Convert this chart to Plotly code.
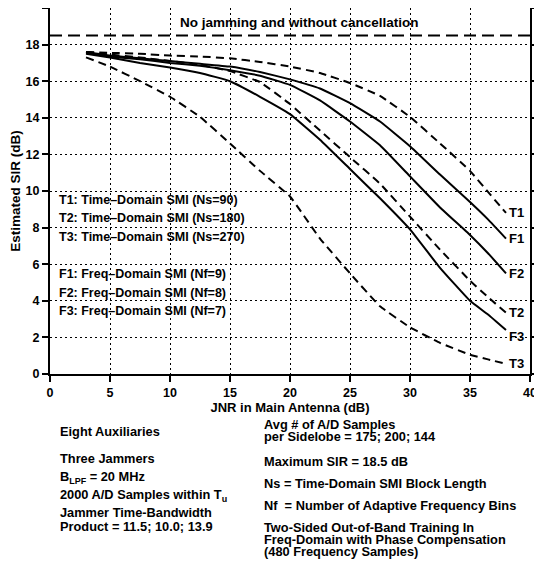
import plotly.graph_objects as go

# ---------------- data ----------------
jnr = [3, 5, 7.5, 10, 12.5, 15, 17.5, 20, 22.5, 25, 27.5, 30, 32.5, 35, 36.5, 38]

sir_T1 = [17.6, 17.55, 17.5, 17.4, 17.35, 17.25, 17.05, 16.8, 16.45, 15.9, 15.2, 14.05, 12.6, 11.1, 9.95, 8.8]
sir_F1 = [17.6, 17.4, 17.25, 17.1, 16.95, 16.8, 16.5, 16.1, 15.6, 14.8, 13.8, 12.45, 10.9, 9.4, 8.45, 7.4]
sir_F2 = [17.55, 17.35, 17.2, 17.0, 16.85, 16.6, 16.3, 15.8, 14.95, 13.8, 12.5, 10.8, 9.1, 7.6, 6.6, 5.5]
sir_T2 = [17.6, 17.45, 17.3, 17.1, 16.9, 16.55, 15.95, 14.75, 13.3, 11.85, 10.4, 8.6, 6.8, 5.1, 4.2, 3.35]
sir_F3 = [17.5, 17.3, 17.0, 16.75, 16.45, 16.0, 15.15, 14.2, 12.8, 11.2, 9.6, 7.9, 5.8, 4.0, 3.25, 2.4]
sir_T3 = [17.3, 16.8, 16.0, 15.15, 14.05, 12.6, 11.1, 9.7, 7.4, 5.5, 3.7, 2.55, 1.7, 1.05, 0.8, 0.55]

nojam_x = [0, 40]
nojam_y = [18.5, 18.5]

series_names = ["T1", "F1", "F2", "T2", "F3", "T3"]
series_vals = [sir_T1, sir_F1, sir_F2, sir_T2, sir_F3, sir_T3]
series_dashed = [True, False, False, True, False, True]

x_ticks = [0, 5, 10, 15, 20, 25, 30, 35, 40]
y_ticks = [0, 2, 4, 6, 8, 10, 12, 14, 16, 18, 20]

legend_T = ["T1: Time–Domain SMI (Ns=90)",
            "T2: Time–Domain SMI (Ns=180)",
            "T3: Time–Domain SMI (Ns=270)"]
legend_F = ["F1: Freq–Domain SMI (Nf=9)",
            "F2: Freq–Domain SMI (Nf=8)",
            "F3: Freq–Domain SMI (Nf=7)"]

top_note = "No jamming and without cancellation"

notes_left = ["Eight Auxiliaries",
              "Three Jammers",
              "B<sub>LPF</sub> = 20 MHz",
              "2000 A/D Samples within T<sub>u</sub>",
              "Jammer Time-Bandwidth",
              "Product = 11.5; 10.0; 13.9"]
notes_right = ["Avg # of A/D Samples",
               "per Sidelobe = 175; 200; 144",
               "Maximum SIR = 18.5 dB",
               "Ns = Time-Domain SMI Block Length",
               "Nf  = Number of Adaptive Frequency Bins",
               "Two-Sided Out-of-Band Training In",
               "Freq-Domain with Phase Compensation",
               "(480 Frequency Samples)"]

# ---------------- figure ----------------
FONT = "Liberation Sans, Arial, Helvetica, sans-serif"
OFF = 8                      # page body margin offset
W, H = 534, 578
ML, MR, MT, MB = 42, 12, 0, 212
plot_w = W - ML - MR
plot_h = H - MT - MB

fig = go.Figure()

fig.add_trace(go.Scatter(x=nojam_x, y=nojam_y, mode="lines",
                         line=dict(color="black", width=2, dash="12px,6px"),
                         hoverinfo="skip"))

for name, vals, dashed in zip(series_names, series_vals, series_dashed):
    fig.add_trace(go.Scatter(
        x=jnr, y=vals, mode="lines", name=name,
        line=dict(color="black", width=2,
                  dash="8px,5px" if dashed else "solid",
                  shape="spline", smoothing=0.3)))

annotations = []
for name, vals in zip(series_names, series_vals):
    annotations.append(dict(x=38.1, y=vals[-1], xref="x", yref="y",
                            text="<b>%s</b>" % name, showarrow=False,
                            xanchor="left", yanchor="middle",
                            yshift=-6 if name == "F3" else 0,
                            font=dict(family=FONT, size=13, color="black")))

annotations.append(dict(x=20.8, y=19.2, xref="x", yref="y",
                        text="<b>%s</b>" % top_note, showarrow=False,
                        xanchor="center", yanchor="middle",
                        font=dict(family=FONT, size=13.5, color="black")))


def sx(px):
    return (px - OFF - ML) / plot_w


def sy(py):
    return (H - MB - (py - OFF)) / plot_h


leg_x = sx(57)
for i, t in enumerate(legend_T):
    annotations.append(dict(x=leg_x, y=9.5 - i * 1.0, xref="paper", yref="y",
                            text="<b>%s</b>" % t, showarrow=False,
                            xanchor="left", yanchor="middle",
                            font=dict(family=FONT, size=12.5, color="black")))
for i, t in enumerate(legend_F):
    annotations.append(dict(x=leg_x, y=5.45 - i * 1.0, xref="paper", yref="y",
                            text="<b>%s</b>" % t, showarrow=False,
                            xanchor="left", yanchor="middle",
                            font=dict(family=FONT, size=12.5, color="black")))

left_py = [431, 458, 477, 495, 513, 526]
right_py = [424, 436, 461, 483, 505, 527, 539, 551]
for t, py in zip(notes_left, left_py):
    annotations.append(dict(x=sx(58), y=sy(py),
                            xref="paper", yref="paper", text="<b>%s</b>" % t,
                            showarrow=False, xanchor="left", yanchor="middle",
                            font=dict(family=FONT, size=12.8, color="black")))
for t, py in zip(notes_right, right_py):
    annotations.append(dict(x=sx(262), y=sy(py),
                            xref="paper", yref="paper", text="<b>%s</b>" % t,
                            showarrow=False, xanchor="left", yanchor="middle",
                            font=dict(family=FONT, size=12.8, color="black")))

axis_common = dict(showline=True, linecolor="black", linewidth=2, mirror="ticks",
                   ticks="outside", ticklen=6, tickwidth=1.5, tickcolor="black",
                   showgrid=True, gridcolor="black", gridwidth=1.3, griddash="2px,3px",
                   zeroline=False, automargin=False,
                   tickfont=dict(family=FONT, size=12.5, color="black", weight="bold"))

fig.update_layout(
    width=W, height=H,
    margin=dict(l=ML, r=MR, t=MT, b=MB, autoexpand=False),
    paper_bgcolor="white", plot_bgcolor="white",
    showlegend=False,
    annotations=annotations,
    xaxis=dict(range=[0, 40], tickvals=x_ticks,
               title=dict(text="<b>JNR in Main Antenna (dB)</b>", standoff=0,
                          font=dict(family=FONT, size=13, color="black")),
               **axis_common),
    yaxis=dict(range=[0, 20], tickvals=y_ticks,
               title=dict(text="<b>Estimated SIR (dB)</b>", standoff=2,
                          font=dict(family=FONT, size=13.5, color="black")),
               **axis_common),
)

fig.write_html("out.html")
